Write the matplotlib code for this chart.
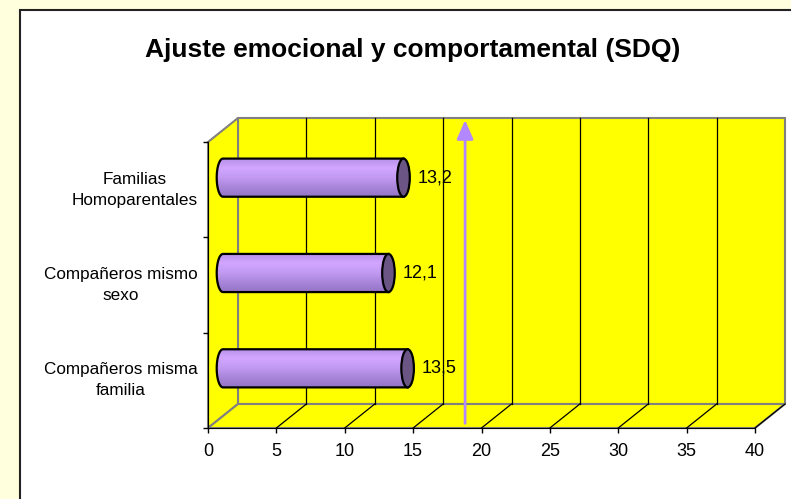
import numpy as np
import matplotlib
matplotlib.use("Agg")
import matplotlib.pyplot as plt
from matplotlib.patches import Polygon, Ellipse, Rectangle
from matplotlib.colors import LinearSegmentedColormap

plt.rcParams['font.family'] = ['Liberation Sans', 'DejaVu Sans']

# data
categories = ["Compañeros misma\nfamilia", "Compañeros mismo\nsexo", "Familias\nHomoparentales"]
values = [13.5, 12.1, 13.2]
value_labels = ["13,5", "12,1", "13,2"]
x_ticks = [0, 5, 10, 15, 20, 25, 30, 35, 40]
reference = 18.8   # purple arrow drawn on the chart
title = "Ajuste emocional y comportamental (SDQ)"

W, H = 791, 499
fig = plt.figure(figsize=(W / 100, H / 100), dpi=100)
fig.patch.set_facecolor('#FFFFDD')
box = Rectangle((20 / W, -0.2), 1.2, 1.2 - 10 / H, transform=fig.transFigure,
                facecolor='white', edgecolor='#222222', lw=1.5, zorder=-5)
fig.patches.append(box)

# front plot area in pixels: x 208..755, y 142..428
ax = fig.add_axes([208 / W, (H - 428) / H, 547 / W, 286 / H])
ax.set_zorder(2)
ax.set_facecolor('none')
xmax = x_ticks[-1]
n = len(categories)
ymin, ymax = -0.5, n - 0.5
ax.set_xlim(0, xmax)
ax.set_ylim(ymin, ymax)

# depth offset of the 3d box (data units)
px_x = 547 / xmax
px_y = 286 / n
dx = 30 / px_x
dy = 24 / px_y

yellow = '#FFFF00'
grey = '#808080'
walls = [
    [(dx, ymin + dy), (xmax + dx, ymin + dy), (xmax + dx, ymax + dy), (dx, ymax + dy)],
    [(0, ymin), (dx, ymin + dy), (dx, ymax + dy), (0, ymax)],
    [(0, ymin), (xmax, ymin), (xmax + dx, ymin + dy), (dx, ymin + dy)],
]
for w in walls:
    ax.add_patch(Polygon(w, closed=True, facecolor=yellow, edgecolor=grey, lw=1.5,
                         clip_on=False, zorder=0))

for t in x_ticks[1:-1]:
    ax.plot([t + dx, t + dx], [ymin + dy, ymax + dy], color='black', lw=0.9, clip_on=False, zorder=1)
for t in x_ticks[1:]:
    ax.plot([t, t + dx], [ymin, ymin + dy], color='black', lw=0.9, clip_on=False, zorder=1)

# cylinders
cmap = LinearSegmentedColormap.from_list('cyl', ['#B58FE6', '#D2A6FF', '#C29AF2', '#A986DA', '#9474C4'])
grad = np.linspace(0, 1, 100).reshape(-1, 1)
bh = 0.4
a = 0.46
for i, v in enumerate(values):
    yc = i + dy / 2
    x0 = dx / 2
    x1 = v + dx / 2
    th = np.linspace(np.pi / 2, 3 * np.pi / 2, 40)
    left = np.column_stack([x0 + a * np.cos(th), yc + bh / 2 * np.sin(th)])
    body = np.vstack([[(x1, yc + bh / 2)], left, [(x1, yc - bh / 2)]])
    poly = Polygon(body, closed=True, facecolor='none', edgecolor='black', lw=1.6, zorder=4)
    ax.add_patch(poly)
    im = ax.imshow(grad, cmap=cmap, aspect='auto', extent=(x0 - a, x1, yc - bh / 2, yc + bh / 2),
                   zorder=3, interpolation='bilinear')
    im.set_clip_path(poly)
    ax.add_patch(Ellipse((x1, yc), 2 * a, bh, facecolor='#6A5584', edgecolor='black', lw=1.6, zorder=5))
    ax.text(x1 + 1.0, yc, value_labels[i], ha='left', va='center', fontsize=13, zorder=6)

ax.set_xlim(0, xmax)
ax.set_ylim(ymin, ymax)

# arrow
ax.annotate('', xy=(reference, ymax + 0.26), xytext=(reference, ymin + 0.02),
            arrowprops=dict(arrowstyle='-|>,head_width=0.5,head_length=1.15', color='#B388FF', lw=2),
            annotation_clip=False, zorder=6)

# axes
for s in ['top', 'right']:
    ax.spines[s].set_visible(False)
ax.spines['bottom'].set_color('black')
ax.spines['left'].set_color('black')
ax.spines['bottom'].set_zorder(2)
ax.spines['left'].set_zorder(2)
ax.set_xticks(x_ticks)
ax.set_xticklabels([str(t) for t in x_ticks])
ax.set_yticks(np.arange(ymin, ymax + 0.01, 1))
ax.set_yticklabels([])
ax.tick_params(axis='both', direction='out', length=3.6, width=1, labelsize=13, pad=7.5)
for i, c in enumerate(categories):
    ax.text(-0.75, i, c, ha='right', va='center', multialignment='center', fontsize=12.3,
            linespacing=1.5)

fig.text(413 / W, 1 - 50 / H, title, ha='center', va='center', fontsize=19, fontweight='bold')

fig.savefig('out.png', dpi=100, facecolor=fig.get_facecolor())
